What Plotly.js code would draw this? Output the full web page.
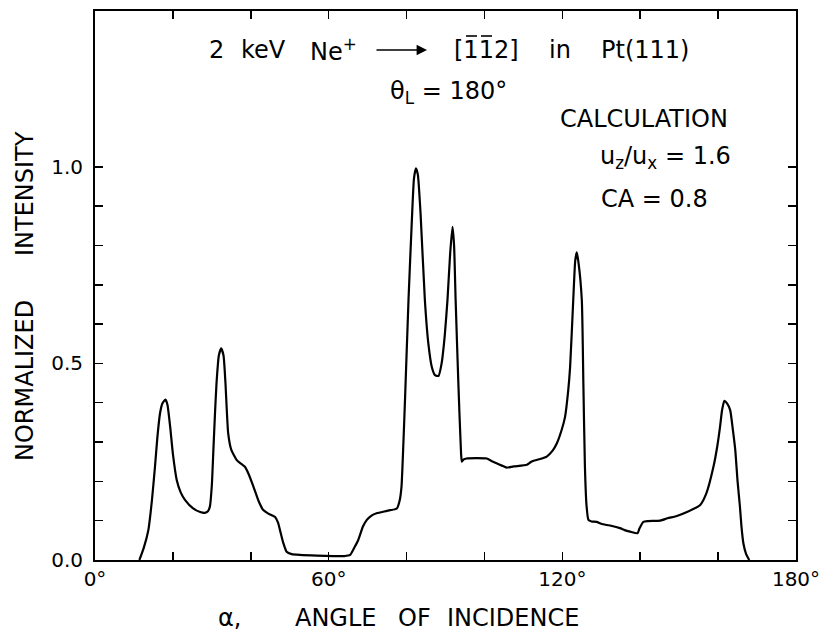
<!DOCTYPE html>
<html>
<head>
<meta charset="utf-8">
<script src="https://cdn.plot.ly/plotly-3.0.1.min.js"></script>
<style>html,body{margin:0;padding:0;background:#fff;}#plot{width:833px;height:635px;}</style>
</head>
<body>
<div id="plot"></div>
<script>
// Angle of incidence (degrees)
var angle = [11.4,12.5,13.7,14.6,15.4,16.0,16.7,17.3,18.1,18.6,19.3,20.0,21.0,22.0,23.1,25.2,27.0,28.2,29.0,29.5,30.0,30.4,30.8,31.2,31.8,32.4,33.0,33.5,34.2,35.0,36.4,37.5,38.5,39.6,40.7,42.0,43.2,44.5,46.2,47.0,47.5,48.3,49.2,50.5,52.6,57.0,61.2,64.0,65.5,66.5,67.6,68.8,69.8,71.0,72.3,75.0,77.5,78.2,78.7,79.2,79.6,80.5,81.3,81.9,82.4,82.9,83.6,84.7,85.6,86.5,87.3,88.2,89.0,89.8,90.5,91.2,91.8,92.2,92.6,93.3,94.0,94.2,94.6,95.4,98.0,100.6,101.8,103.1,104.5,105.7,107.5,110.9,112.0,114.0,116.0,117.5,118.6,119.8,120.7,121.5,122.0,122.8,123.3,123.7,124.1,125.0,125.4,125.8,126.2,126.7,127.5,128.8,130.0,131.4,132.5,134.8,136.0,137.4,139.3,139.8,140.8,142.0,145.1,147.0,149.4,152.0,155.4,157.0,158.8,159.8,160.5,161.0,161.6,162.3,163.1,163.8,164.4,165.0,165.6,166.0,166.5,167.2,168.0];
// Normalized intensity
var intensity = [0,0.03,0.076,0.15,0.237,0.31,0.373,0.398,0.408,0.395,0.339,0.27,0.203,0.172,0.153,0.131,0.122,0.120,0.124,0.136,0.19,0.28,0.37,0.449,0.52,0.538,0.52,0.45,0.322,0.28,0.254,0.245,0.237,0.215,0.186,0.15,0.127,0.118,0.110,0.095,0.076,0.045,0.021,0.015,0.013,0.011,0.010,0.010,0.013,0.03,0.051,0.085,0.102,0.113,0.119,0.125,0.131,0.15,0.186,0.30,0.407,0.661,0.85,0.97,0.996,0.98,0.88,0.661,0.55,0.49,0.47,0.468,0.50,0.57,0.66,0.78,0.847,0.80,0.661,0.45,0.27,0.250,0.255,0.258,0.259,0.258,0.252,0.246,0.240,0.235,0.238,0.242,0.25,0.256,0.263,0.278,0.297,0.33,0.364,0.43,0.491,0.661,0.76,0.782,0.76,0.661,0.45,0.237,0.14,0.102,0.098,0.097,0.092,0.089,0.087,0.081,0.076,0.072,0.068,0.08,0.097,0.099,0.100,0.106,0.112,0.122,0.140,0.17,0.237,0.29,0.339,0.38,0.405,0.398,0.381,0.33,0.280,0.20,0.136,0.085,0.042,0.015,0];

var xTickVals = [0,60,120,180];
var xTickText = ['0°','60°','120°','180°'];
var xMinorVals = [20,40,80,100,140,160];
var yTickVals = [0,0.5,1.0];
var yTickText = ['0.0','0.5','1.0'];
var yMinorVals = [0.1,0.2,0.3,0.4,0.6,0.7,0.8,0.9];

var FONT = 'DejaVu Sans, sans-serif';

var trace = {
  x: angle, y: intensity, type: 'scatter', mode: 'lines',
  line: {color: '#000', width: 2.2, shape: 'spline', smoothing: 0.5}, hoverinfo: 'skip'
};

function px2x(px) { return (px - 95) / 701; }
function px2y(py) { return (560 - py) / 549; }

function word(text, px, py, size, extra) {
  var a = {
    text: text, xref: 'paper', yref: 'paper',
    x: px2x(px), y: px2y(py),
    xanchor: 'left', yanchor: 'middle', showarrow: false,
    font: {family: FONT, size: size || 24, color: '#000'}
  };
  if (extra) for (var k in extra) a[k] = extra[k];
  return a;
}

var annotations = [
  word('2', 207, 50),
  word('keV', 239, 50),
  word('Ne<sup>+</sup>', 308, 50),
  {text: '', xref: 'paper', yref: 'paper', x: px2x(427), y: px2y(50),
   ax: -52, ay: 0, showarrow: true, arrowhead: 2, arrowsize: 1.3, arrowwidth: 1.6,
   arrowcolor: '#000', standoff: 0, startstandoff: 0},
  word('[112]', 452, 50),
  word('in', 547, 50),
  word('Pt(111)', 599, 50),
  word('\u03b8<sub>L</sub> = 180°', 388, 92),
  word('CALCULATION', 558, 119),
  word('u<sub>z</sub>/u<sub>x</sub> = 1.6', 598, 158),
  word('CA = 0.8', 599, 199),
  word('\u03b1,', 216, 618),
  word('ANGLE', 293, 618),
  word('OF', 396, 618),
  word('INCIDENCE', 445, 618),
  word('NORMALIZED', 25, 381, 24, {xanchor: 'center', textangle: -90}),
  word('INTENSITY', 25, 194, 24, {xanchor: 'center', textangle: -90})
];

// overbars of the Miller indices (bar-1 bar-1 2)
var shapes = [
  {type: 'line', xref: 'paper', yref: 'paper', x0: px2x(466), x1: px2x(477), y0: px2y(36), y1: px2y(36), line: {color: '#000', width: 1.6}},
  {type: 'line', xref: 'paper', yref: 'paper', x0: px2x(481), x1: px2x(492), y0: px2y(36), y1: px2y(36), line: {color: '#000', width: 1.6}}
];

var layout = {
  width: 833, height: 635,
  margin: {l: 95, r: 37, t: 11, b: 75, pad: 0},
  paper_bgcolor: '#fff', plot_bgcolor: '#fff',
  showlegend: false,
  font: {family: FONT, size: 20, color: '#000'},
  xaxis: {
    range: [0, 180], tickmode: 'array', tickvals: xTickVals, ticktext: xTickText,
    ticks: 'inside', ticklen: 8, tickwidth: 1.6, tickcolor: '#000',
    minor: {tickmode: 'array', tickvals: xMinorVals, ticks: 'inside', ticklen: 8, tickwidth: 1.6, tickcolor: '#000', showgrid: false},
    showline: true, linewidth: 2, linecolor: '#000', mirror: 'ticks',
    showgrid: false, zeroline: false, fixedrange: true,
    tickfont: {family: FONT, size: 20, color: '#000'}
  },
  yaxis: {
    range: [0, 1.396], tickmode: 'array', tickvals: yTickVals, ticktext: yTickText,
    ticks: 'inside', ticklen: 8, tickwidth: 1.6, tickcolor: '#000',
    minor: {tickmode: 'array', tickvals: yMinorVals, ticks: 'inside', ticklen: 8, tickwidth: 1.6, tickcolor: '#000', showgrid: false},
    showline: true, linewidth: 2, linecolor: '#000', mirror: 'ticks',
    showgrid: false, zeroline: false, fixedrange: true,
    tickfont: {family: FONT, size: 20, color: '#000'},
    ticklabelstandoff: 6
  },
  shapes: shapes,
  annotations: annotations
};

Plotly.newPlot('plot', [trace], layout, {displayModeBar: false, staticPlot: true});
</script>
</body>
</html>
